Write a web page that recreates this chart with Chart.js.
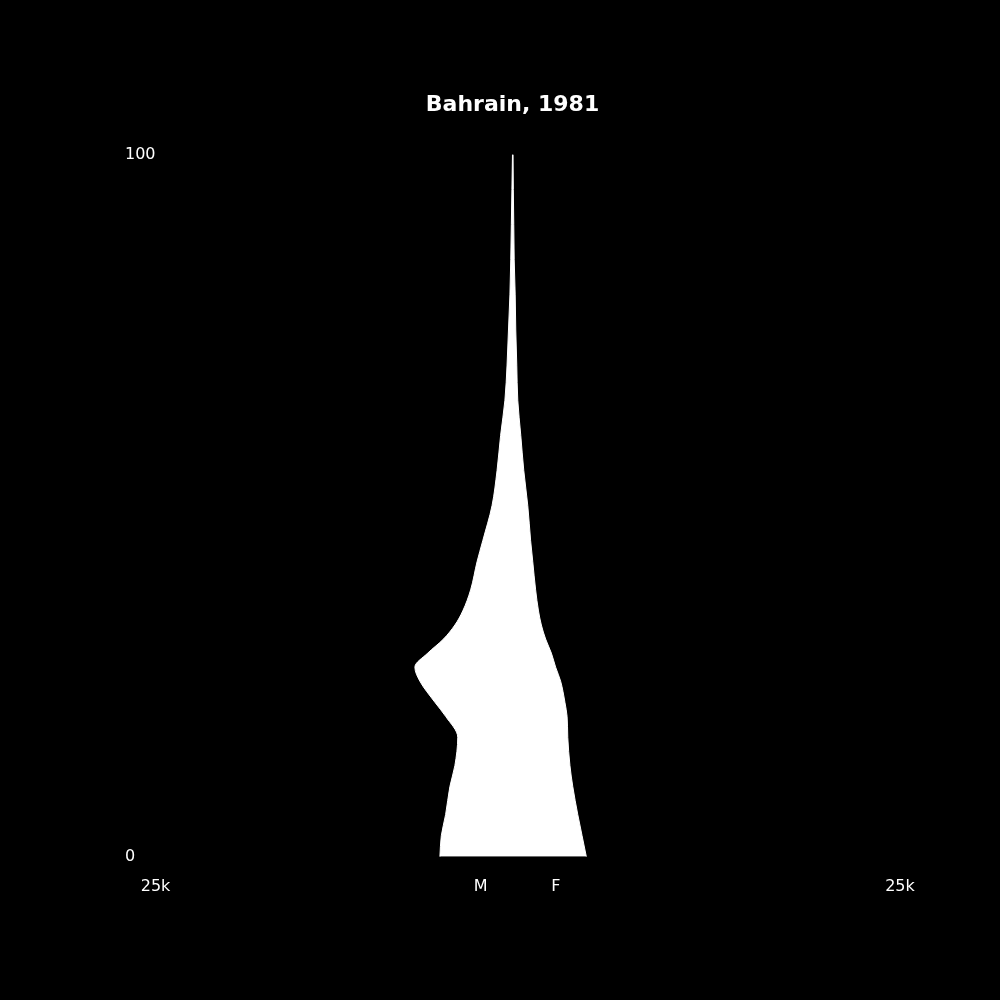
<!DOCTYPE html>
<html>
<head>
<meta charset="utf-8">
<title>Bahrain, 1981</title>
<script src="https://cdn.jsdelivr.net/npm/chart.js@4/dist/chart.umd.min.js"></script>
<style>
  html, body { margin: 0; padding: 0; background: #000; }
  canvas { display: block; }
</style>
</head>
<body>
<canvas id="pyramid" width="1000" height="1000"></canvas>
<script>
const ages = [0, 3, 6, 10, 13, 17, 20, 22, 25, 27, 29, 31, 33, 35, 38, 42, 45, 50, 55, 60, 65, 70, 75, 80, 85, 90, 95, 100];
const male = [5100, 5000, 4700, 4400, 4050, 3850, 4700, 5450, 6500, 6850, 5950, 4850, 4050, 3500, 2950, 2500, 2100, 1450, 1100, 850, 550, 400, 300, 200, 140, 100, 60, 20];
const female = [5150, 4850, 4550, 4200, 4000, 3850, 3800, 3650, 3350, 3000, 2700, 2300, 2000, 1800, 1600, 1400, 1250, 1050, 770, 560, 350, 280, 210, 170, 100, 70, 40, 20];

const xTickValues = [-25000, -2240, 3010, 27100];
const xTickLabels = ['25k', 'M', 'F', '25k'];
const yTickValues = [0, 100];

Chart.defaults.font.family = 'DejaVu Sans';
Chart.defaults.color = '#FFFFFF';

const ctx = document.getElementById('pyramid').getContext('2d');

const sideStyle = {
  borderColor: '#FFFFFF',
  backgroundColor: '#FFFFFF',
  borderWidth: 1,
  pointRadius: 0,
  cubicInterpolationMode: 'monotone',
};

new Chart(ctx, {
  type: 'line',
  data: {
    datasets: [
      // male side on the left, female filled back to it so there is no seam at 0
      Object.assign({ label: 'M', fill: false, data: ages.map((a, i) => ({ x: -male[i], y: a })) }, sideStyle),
      Object.assign({ label: 'F', fill: '-1', data: ages.map((a, i) => ({ x: female[i], y: a })) }, sideStyle),
    ]
  },
  options: {
    indexAxis: 'y',
    responsive: false,
    devicePixelRatio: 1,
    animation: false,
    layout: {
      padding: { top: 0, left: 125, right: 100, bottom: 84 }
    },
    plugins: {
      legend: { display: false },
      tooltip: { enabled: false },
      title: {
        display: true,
        text: 'Bahrain, 1981',
        color: '#FFFFFF',
        font: { size: 22, weight: 'bold' },
        padding: { top: 92, bottom: 36 }
      }
    },
    scales: {
      x: {
        type: 'linear',
        min: -25000,
        max: 27100,
        grid: { display: false, drawTicks: false },
        border: { display: false },
        afterBuildTicks: (axis) => {
          axis.ticks = xTickValues.map(v => ({ value: v }));
        },
        ticks: {
          color: '#FFFFFF',
          font: { size: 16 },
          padding: 20,
          autoSkip: false,
          maxRotation: 0,
          callback: (value, index) => xTickLabels[index]
        }
      },
      y: {
        type: 'linear',
        min: 0,
        max: 100,
        grid: { display: false, drawTicks: false },
        border: { display: false },
        afterBuildTicks: (axis) => {
          axis.ticks = yTickValues.map(v => ({ value: v }));
        },
        ticks: {
          color: '#FFFFFF',
          font: { size: 16 },
          padding: 0,
          crossAlign: 'far',
          autoSkip: false
        }
      }
    }
  }
});
</script>
</body>
</html>
